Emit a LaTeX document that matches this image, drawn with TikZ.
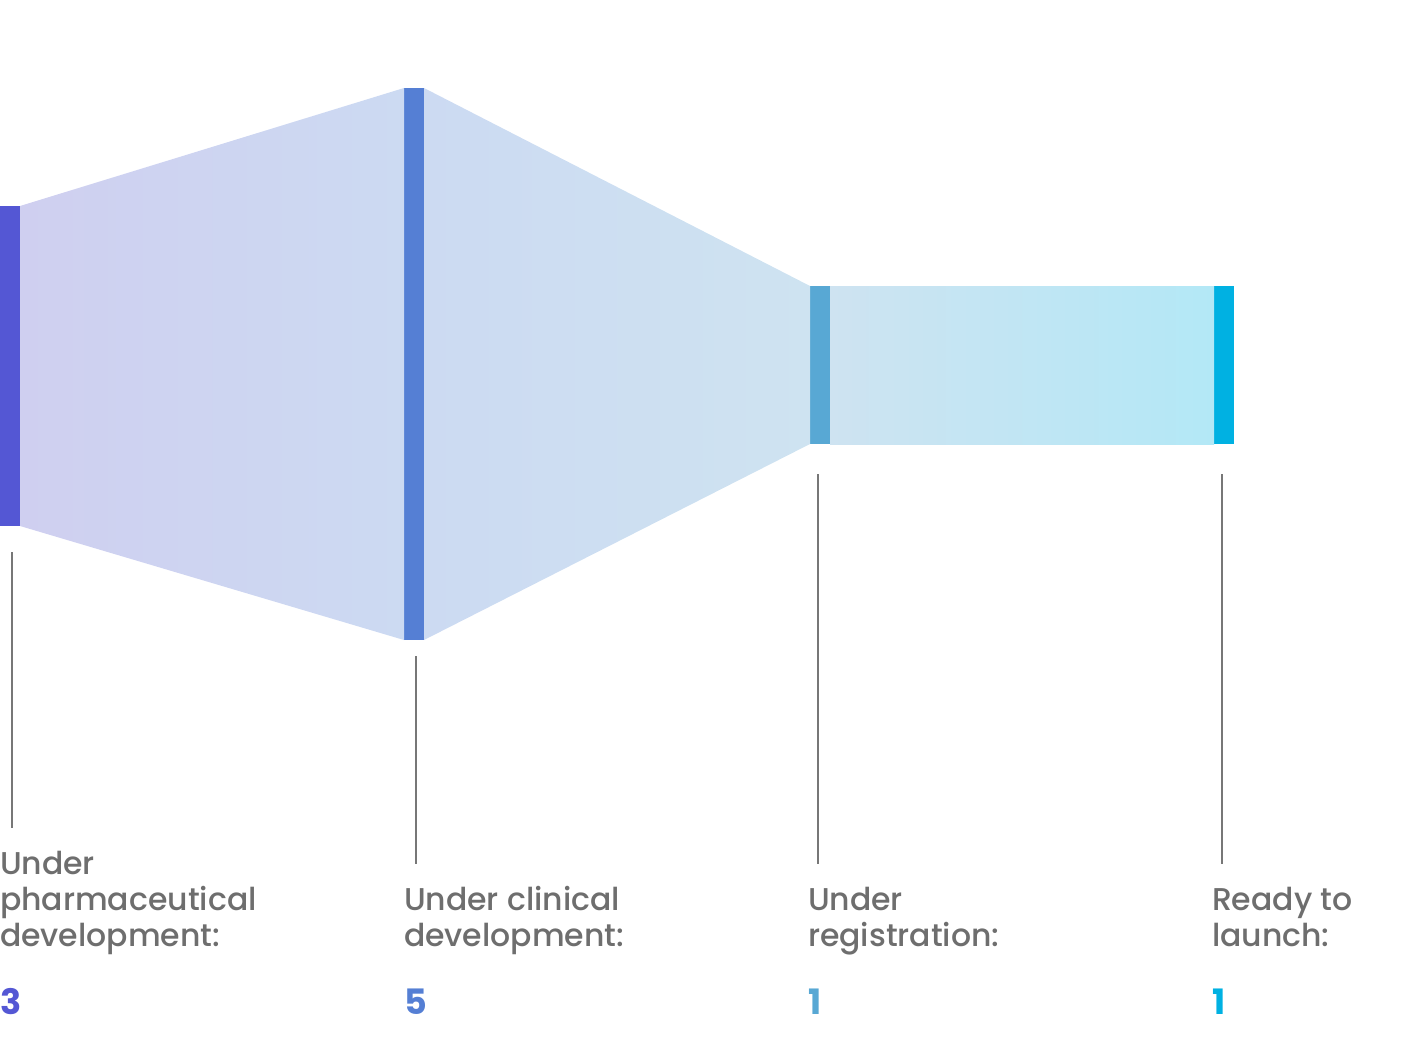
\documentclass[tikz,border=0pt]{standalone}
\usepackage{fontspec}
\setmainfont{Poppins}[UprightFont={* Medium},BoldFont={* Bold}]
\definecolor{cA}{HTML}{5457D4}
\definecolor{cB}{HTML}{557FD4}
\definecolor{cC}{HTML}{58A8D4}
\definecolor{cD}{HTML}{00B1E2}
\definecolor{fA}{HTML}{CFCFF0}
\definecolor{fB}{HTML}{CCDAF2}
\definecolor{fC}{HTML}{CEE3F1}
\definecolor{fD}{HTML}{B3E8F6}
\definecolor{txt}{HTML}{6E6E6E}
\definecolor{lead}{HTML}{777777}
\begin{document}
\begin{tikzpicture}[x=1pt,y=-1pt,
  bar/.style={inner sep=0pt,outer sep=0pt,minimum width=20pt,draw=none},
  leader/.style={draw=lead,line width=2pt},
  lbl/.style={anchor=base west,inner sep=0pt,outer sep=0pt,text=txt,font=\fontsize{31.5}{36}\selectfont},
  num/.style={anchor=base west,inner sep=0pt,outer sep=0pt,font=\fontsize{35}{40}\selectfont\bfseries}]
\useasboundingbox (0,0) rectangle (1408,1054);
% bars
\node[bar,fill=cA,minimum height=320pt] (b1) at (10,366) {};
\node[bar,fill=cB,minimum height=552pt] (b2) at (414,364) {};
\node[bar,fill=cC,minimum height=158pt] (b3) at (820,365) {};
\node[bar,fill=cD,minimum height=158pt] (b4) at (1224,365) {};
% bands
\shade[left color=fA,right color=fB] (b1.north east) -- (b2.north west) -- (b2.south west) -- (b1.south east) -- cycle;
\shade[left color=fB,right color=fC] (b2.north east) -- (b3.north west) -- (b3.south west) -- (b2.south east) -- cycle;
\shade[left color=fC,right color=fD] (b3.north east) -- (b4.north west) -- (b4.south west) -- (b3.south east) -- cycle;
% leaders
\coordinate (t1) at (12,552); \coordinate (e1) at (12,828);
\coordinate (t2) at (416,656); \coordinate (e2) at (416,864);
\coordinate (t3) at (818,474); \coordinate (e3) at (818,864);
\coordinate (t4) at (1222,474); \coordinate (e4) at (1222,864);
\draw[leader] (t1) -- (e1);
\draw[leader] (t2) -- (e2);
\draw[leader] (t3) -- (e3);
\draw[leader] (t4) -- (e4);
% labels
\node[lbl] (l1) at (0,874) {\begin{tabular}[t]{@{}l@{}}Under\\pharmaceutical\\development:\end{tabular}};
\node[lbl] (l2) at (404,910) {\begin{tabular}[t]{@{}l@{}}Under clinical\\development:\end{tabular}};
\node[lbl] (l3) at (808,910) {\begin{tabular}[t]{@{}l@{}}Under\\registration:\end{tabular}};
\node[lbl] (l4) at (1212,910) {\begin{tabular}[t]{@{}l@{}}Ready to\\launch:\end{tabular}};
% numbers
\node[num,text=cA] (n1) at (0,1014) {3};
\node[num,text=cB] (n2) at (404,1014) {5};
\node[num,text=cC] (n3) at (808,1014) {1};
\node[num,text=cD] (n4) at (1212,1014) {1};
\end{tikzpicture}
\end{document}
